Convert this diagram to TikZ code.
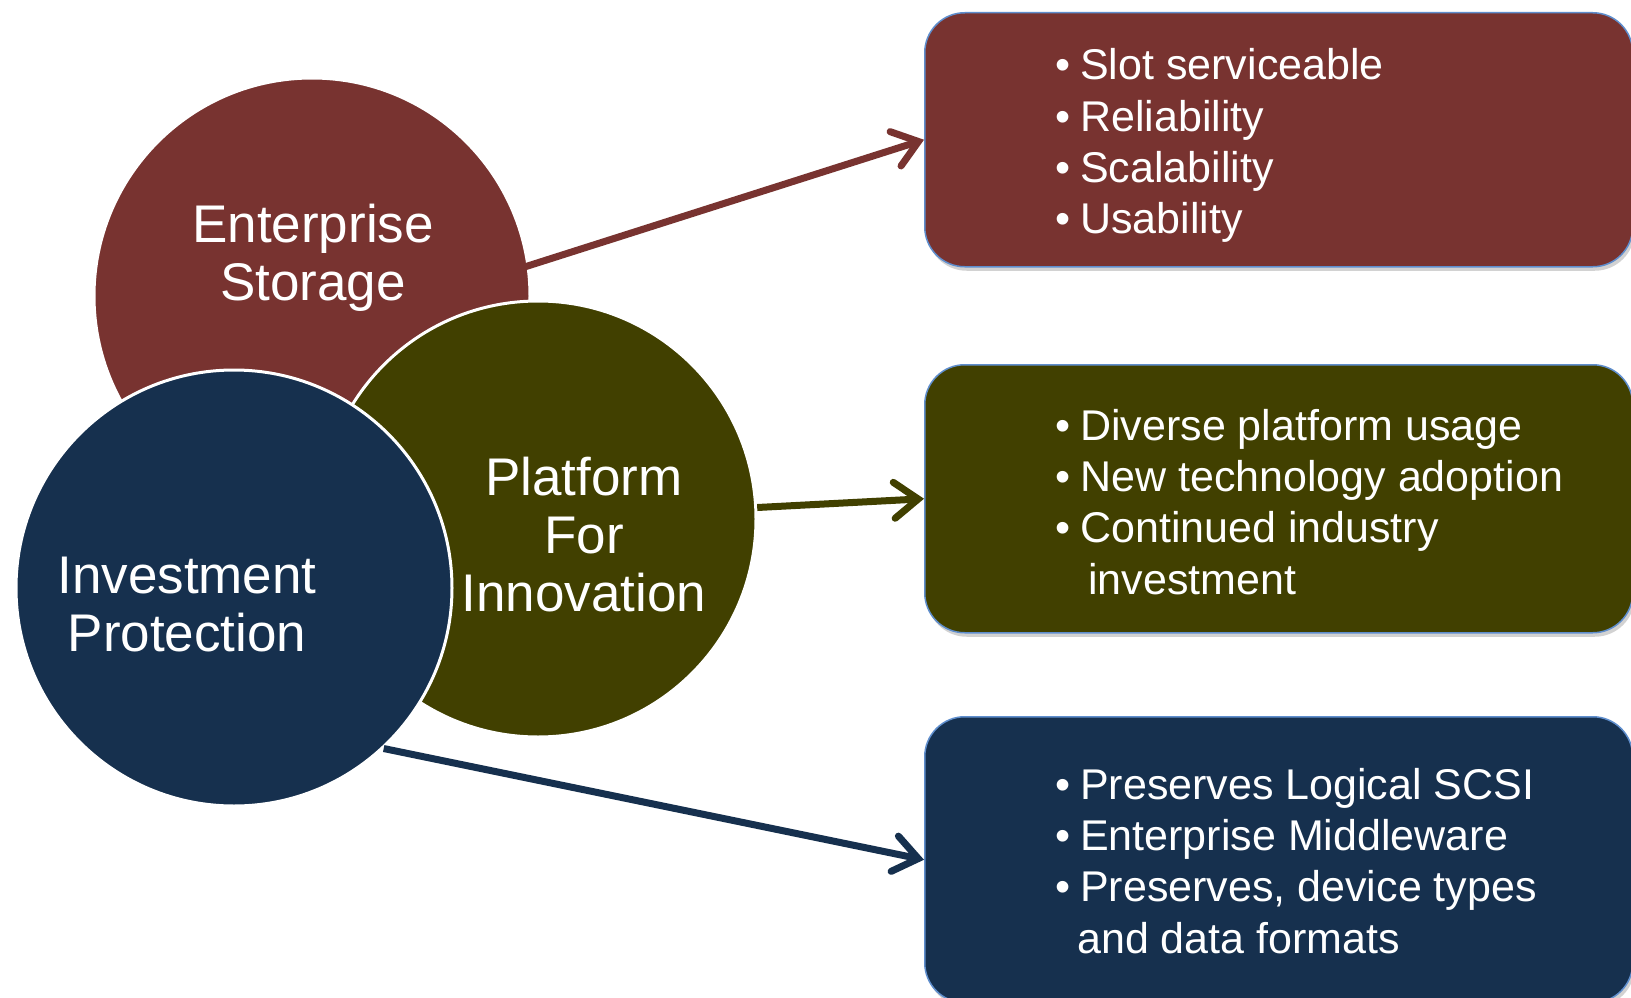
\documentclass[tikz,border=0pt]{standalone}
\usepackage{fontspec}
\setmainfont{Liberation Sans}
\usetikzlibrary{arrows.meta,shadows}
\definecolor{esred}{RGB}{120,51,48}
\definecolor{pfgreen}{RGB}{65,64,0}
\definecolor{ipblue}{RGB}{22,48,78}
\definecolor{boxline}{RGB}{95,142,205}
\newcommand{\bul}{\makebox[25pt][l]{•}}
\begin{document}
\begin{tikzpicture}[x=1pt,y=-1pt,
  circ/.style={circle, draw=white, line width=3pt, minimum size=436pt, inner sep=0pt},
  ctext/.style={text=white, align=center, inner sep=0pt, font=\fontsize{53}{58}\selectfont},
  infobox/.style={rectangle, rounded corners=40pt, draw=boxline, line width=1.5pt, inner sep=0pt,
    anchor=north west, minimum width=708pt,
    drop shadow={opacity=0.35, shadow xshift=2pt, shadow yshift=-4pt}},
  conn/.style={line width=7pt, -{Straight Barb[length=24pt,width=36pt,line cap=round]}},
  txt/.style={anchor=base west, inner sep=0pt, text=white, font=\fontsize{43}{51}\selectfont}]
\useasboundingbox (0,0) rectangle (1631,998);
\clip (0,0) rectangle (1631,998);
\fill[white] (0,0) rectangle (1631,998);

% boxes
\node (esbox) [infobox, fill=esred, minimum height=254pt] at (924,12) {};
\node (pfbox) [infobox, fill=pfgreen, minimum height=268pt] at (924,364) {};
\node (ipbox) [infobox, fill=ipblue, minimum height=286pt] at (924,716) {};

% circles
\node (es) [circ, fill=esred] at (312,296) {};
\node (pf) [circ, fill=pfgreen] at (538,519) {};
\node (ip) [circ, fill=ipblue] at (234,588) {};

\node (estxt) [ctext] at (313,258) {Enterprise\\Storage};
\node (pftxt) [ctext] at (584,535) {Platform\\For\\Innovation};
\node (iptxt) [ctext] at (187,605) {Investment\\Protection};

% connectors
\draw[conn, esred, shorten <=-18pt] (es.8) -- (esbox.west);
\draw[conn, pfgreen] (pf.3) -- (pfbox.west);
\draw[conn, ipblue] (ip.-47) -- (ipbox.west);

% box texts
\node (es1) [txt] at (1055,80) {\bul Slot serviceable};
\node (es2) [txt] at (1055,131) {\bul Reliability};
\node (es3) [txt] at (1055,182) {\bul Scalability};
\node (es4) [txt] at (1055,233) {\bul Usability};

\node (pf1) [txt] at (1055,440) {\bul Diverse platform usage};
\node (pf2) [txt] at (1055,491) {\bul New technology adoption};
\node (pf3) [txt] at (1055,542) {\bul Continued industry};
\node (pf4) [txt] at (1088,594) {investment};

\node (ip1) [txt] at (1055,799) {\bul Preserves Logical SCSI};
\node (ip2) [txt] at (1055,850) {\bul Enterprise Middleware};
\node (ip3) [txt] at (1055,901) {\bul Preserves, device types};
\node (ip4) [txt] at (1077,953) {and data formats};
\end{tikzpicture}
\end{document}
